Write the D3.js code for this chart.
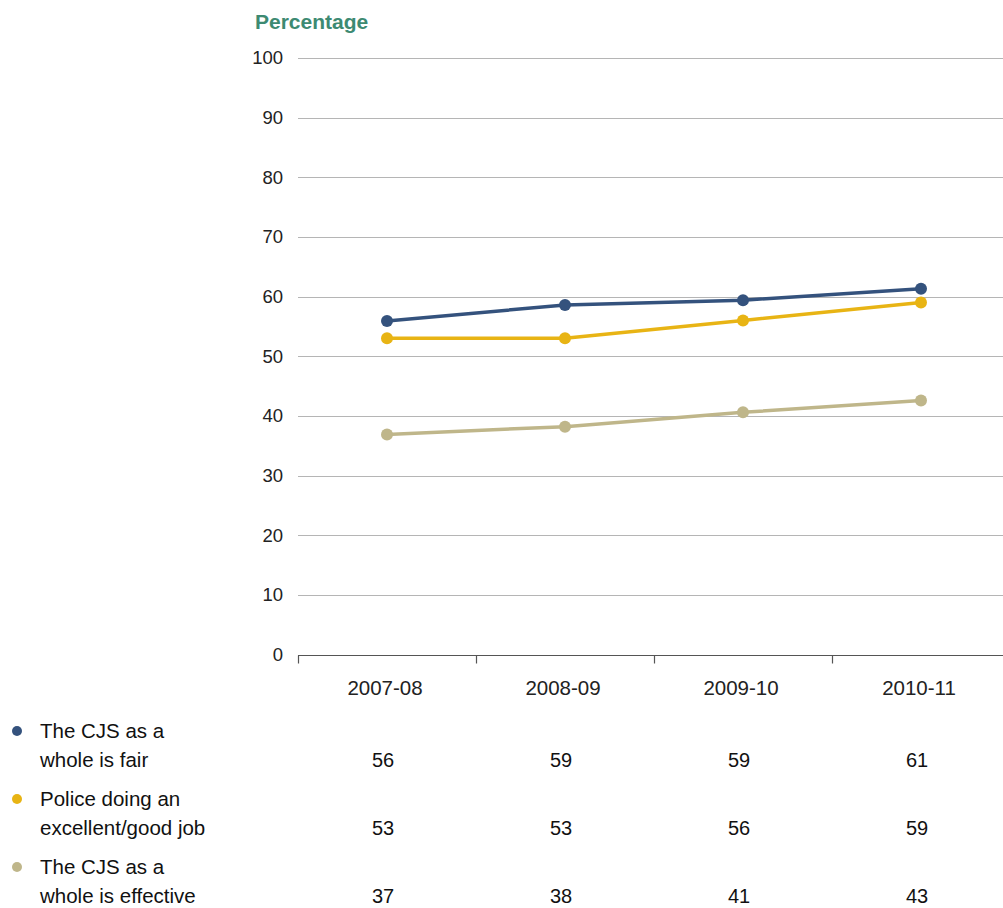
<!DOCTYPE html>
<html>
<head>
<meta charset="utf-8">
<script src="https://cdn.jsdelivr.net/npm/d3@7/dist/d3.min.js"></script>
<style>
  html, body { margin: 0; padding: 0; background: #fff; }
  svg { display: block; font-family: "Liberation Sans", Arial, Helvetica, sans-serif; }
</style>
</head>
<body>
<svg id="chart" width="1003" height="908"></svg>
<script>
// Survey years
const years = ["2007-08", "2008-09", "2009-10", "2010-11"];

// Percentage agreeing, by statement
const fairValues = [55.9, 58.6, 59.4, 61.3];
const policeValues = [53, 53, 56, 59];
const effectiveValues = [36.9, 38.2, 40.6, 42.6];

const seriesNames = [
  ["The CJS as a", "whole is fair"],
  ["Police doing an", "excellent/good job"],
  ["The CJS as a", "whole is effective"]
];
const seriesColors = ["#34527d", "#e8b414", "#bfb68a"];

const yTicks = [0, 10, 20, 30, 40, 50, 60, 70, 80, 90, 100];

const series = [fairValues, policeValues, effectiveValues].map((values, i) => ({
  name: seriesNames[i],
  color: seriesColors[i],
  values
}));

const svg = d3.select("#chart");

const x = d3.scaleBand().domain(years).range([298, 1010]);
const y = d3.scaleLinear().domain([0, 100]).range([654.5, 58]);

// Horizontal gridlines and value labels
const yAxis = svg.append("g")
  .attr("transform", "translate(298,0)")
  .call(d3.axisLeft(y).tickValues(yTicks).tickSize(0).tickPadding(15).tickFormat(d3.format("d")));
yAxis.select(".domain").remove();
yAxis.selectAll("text")
  .attr("fill", "#222")
  .style("font-size", "18.5px");
svg.append("g")
  .selectAll("line")
  .data(yTicks.filter(d => d > 0))
  .join("line")
  .attr("x1", 298).attr("x2", 1003)
  .attr("y1", d => Math.round(y(d)) + 0.5).attr("y2", d => Math.round(y(d)) + 0.5)
  .attr("stroke", "#b5b5b5")
  .attr("stroke-width", 1);

// Category axis with tick marks at band boundaries
const axisY = Math.round(y(0)) + 0.5;
svg.append("line")
  .attr("x1", 298).attr("x2", 1003)
  .attr("y1", axisY).attr("y2", axisY)
  .attr("stroke", "#555").attr("stroke-width", 1.2);
svg.append("g")
  .selectAll("line")
  .data(years)
  .join("line")
  .attr("x1", d => Math.round(x(d)) + 0.5).attr("x2", d => Math.round(x(d)) + 0.5)
  .attr("y1", axisY).attr("y2", axisY + 8)
  .attr("stroke", "#555").attr("stroke-width", 1.2);
svg.append("g")
  .selectAll("text")
  .data(years)
  .join("text")
  .attr("x", d => x(d) + x.bandwidth() / 2 - 2)
  .attr("y", 695)
  .attr("text-anchor", "middle")
  .attr("fill", "#222")
  .style("font-size", "20.5px")
  .text(d => d);

// Axis title
svg.append("text")
  .attr("x", 255).attr("y", 29)
  .attr("fill", "#3d8a72")
  .style("font-size", "21px")
  .style("font-weight", "bold")
  .text("Percentage");

// Lines and markers
const cx = d => x(d) + x.bandwidth() / 2;
const line = d3.line()
  .x((v, i) => cx(years[i]))
  .y(v => y(v));

const seriesG = svg.append("g")
  .selectAll("g")
  .data(series)
  .join("g");
seriesG.append("path")
  .attr("d", s => line(s.values))
  .attr("fill", "none")
  .attr("stroke", s => s.color)
  .attr("stroke-width", 3.5)
  .attr("stroke-linejoin", "round");
seriesG.selectAll("circle")
  .data(s => s.values.map((v, i) => ({ v, year: years[i], color: s.color })))
  .join("circle")
  .attr("cx", d => cx(d.year))
  .attr("cy", d => y(d.v))
  .attr("r", 6)
  .attr("fill", d => d.color);

// Legend with data table
const rowBase = [738, 806, 874];
const lineGap = 28.5;
const fmt = d3.format(".0f");
const rows = svg.append("g")
  .selectAll("g")
  .data(series)
  .join("g");
rows.append("circle")
  .attr("cx", 17)
  .attr("cy", (s, i) => rowBase[i] - 7)
  .attr("r", 5)
  .attr("fill", s => s.color);
rows.append("text")
  .attr("x", 40)
  .attr("y", (s, i) => rowBase[i])
  .attr("fill", "#111")
  .style("font-size", "20.5px")
  .text(s => s.name[0]);
rows.append("text")
  .attr("x", 40)
  .attr("y", (s, i) => rowBase[i] + lineGap)
  .attr("fill", "#111")
  .style("font-size", "20.5px")
  .text(s => s.name[1]);
rows.each(function (s, i) {
  d3.select(this).selectAll("text.val")
    .data(s.values)
    .join("text")
    .attr("class", "val")
    .attr("x", (v, j) => cx(years[j]) - 4)
    .attr("y", rowBase[i] + lineGap)
    .attr("text-anchor", "middle")
    .attr("fill", "#111")
    .style("font-size", "20px")
    .text(v => fmt(v));
});
</script>
</body>
</html>
